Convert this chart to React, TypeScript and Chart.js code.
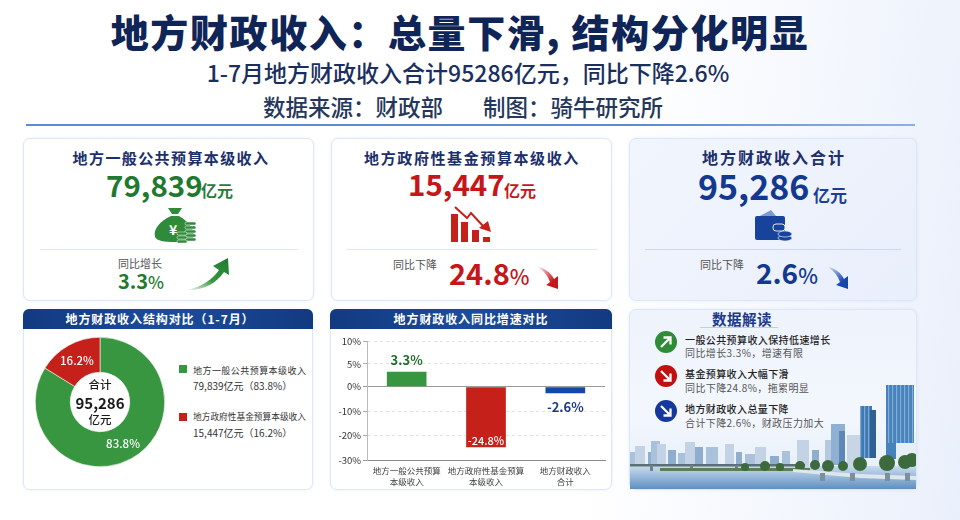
import React, { useEffect, useRef } from "react";
import { Chart, registerables, LinearScale } from "chart.js";

const shareLabels = ["地方一般公共预算本级收入", "地方政府性基金预算本级收入"];
const shareValues = [79839, 15447];
const sharePercents = ["83.8%", "16.2%"];
const shareColors = ["#37963f", "#c5201a"];

const growthCategories = [["地方一般公共预算", "本级收入"], ["地方政府性基金预算", "本级收入"], ["地方财政收入", "合计"]];
const growthValues = [3.3, -24.8, -2.6];
const growthTicks = [10, 5, 0, -10, -20, -30];
const growthColors = ["#37963f", "#c5201a", "#1546ac"];

const FONT = '"Noto Sans CJK SC", "Noto Sans", sans-serif';

class BrokenLinearScale extends (LinearScale as any) {
  static id = "brokenLinear";
  static defaults = {};
  toDecimal(v: number) {
    return v >= 0 ? (220 + (138 * v) / 10) / 358 : (220 * (1 + v / 30)) / 358;
  }
  getPixelForValue(v: number) {
    return (this as any).getPixelForDecimal(this.toDecimal(v));
  }
  getValueForPixel(p: number) {
    const d = (this as any).getDecimalForPixel(p) * 358;
    return d >= 220 ? ((d - 220) / 138) * 10 : (d / 220 - 1) * 30;
  }
}
Chart.register(...registerables, BrokenLinearScale as any);

const doughnutLabels = {
  id: "doughnutLabels",
  afterDatasetsDraw(chart: any) {
    const { ctx } = chart;
    const arcs = chart.getDatasetMeta(0).data;
    ctx.save();
    ctx.textAlign = "center";
    ctx.textBaseline = "middle";
    ctx.fillStyle = "#fff";
    ctx.font = `500 11.5px ${FONT}`;
    arcs.forEach((a: any, i: number) => {
      const p = a.tooltipPosition();
      ctx.fillText(sharePercents[i], p.x, p.y);
    });
    const cx = arcs[0].x;
    const cy = arcs[0].y;
    ctx.fillStyle = "#1a1a1a";
    ctx.font = `500 11.5px ${FONT}`;
    ctx.fillText("合计", cx, cy - 17);
    ctx.font = `700 15px ${FONT}`;
    ctx.fillText("95,286", cx, cy + 1);
    ctx.font = `500 11.5px ${FONT}`;
    ctx.fillText("亿元", cx, cy + 18);
    ctx.restore();
  },
};

const barLabels = {
  id: "barLabels",
  afterDatasetsDraw(chart: any) {
    const { ctx } = chart;
    const bars = chart.getDatasetMeta(0).data;
    ctx.save();
    ctx.textAlign = "center";
    ctx.textBaseline = "middle";
    const fmt = (v: number) => `${v}%`;
    ctx.font = `700 13px ${FONT}`;
    ctx.fillStyle = "#1f6f2c";
    ctx.fillText(fmt(growthValues[0]), bars[0].x, bars[0].y - 12);
    ctx.font = `500 11px ${FONT}`;
    ctx.fillStyle = "#ffffff";
    ctx.fillText(fmt(growthValues[1]), bars[1].x, bars[1].y - 7);
    ctx.font = `700 13px ${FONT}`;
    ctx.fillStyle = "#1c3a8a";
    ctx.fillText(fmt(growthValues[2]), bars[2].x, bars[2].y + 14);
    ctx.restore();
  },
};

function T(p: { x: number; y: number; s: number; c: string; w?: number; ls?: number; center?: boolean; children: any }) {
  return (
    <div
      style={{
        position: "absolute",
        left: p.x,
        top: p.y,
        transform: p.center ? "translate(-50%,-50%)" : "translateY(-50%)",
        fontSize: p.s,
        lineHeight: 1,
        color: p.c,
        fontWeight: p.w ?? 400,
        letterSpacing: p.ls ?? 0,
        whiteSpace: "pre",
      }}
    >
      {p.children}
    </div>
  );
}

function Card(p: { x: number; y: number; w: number; h: number; bg?: string; children?: any }) {
  return (
    <div
      style={{
        position: "absolute",
        left: p.x,
        top: p.y,
        width: p.w,
        height: p.h,
        boxSizing: "border-box",
        borderRadius: 7,
        border: "1px solid #dde7f8",
        background: p.bg ?? "#fff",
        boxShadow: "0 0 3px rgba(120,150,210,.15)",
        overflow: "hidden",
      }}
    >
      {p.children}
    </div>
  );
}

function Header(p: { x: number; y: number; w: number; shift?: number; children: any }) {
  return (
    <div
      style={{
        position: "absolute",
        left: p.x,
        top: p.y,
        width: p.w,
        height: 20,
        boxSizing: "border-box",
        paddingRight: p.shift ?? 0,
        borderRadius: "6px 6px 0 0",
        background: "linear-gradient(90deg,#123a80,#1b4c9c 50%,#123a80)",
        color: "#fff",
        fontSize: 12,
        fontWeight: 700,
        letterSpacing: 0.9,
        lineHeight: "20px",
        textAlign: "center",
      }}
    >
      {p.children}
    </div>
  );
}

function Svg(p: { x: number; y: number; w: number; h: number; children: any }) {
  return (
    <svg
      style={{ position: "absolute", left: p.x, top: p.y }}
      width={p.w}
      height={p.h}
      viewBox={`${p.x} ${p.y} ${p.w} ${p.h}`}
    >
      {p.children}
    </svg>
  );
}

const skyBack = [
  [630, 452, 8, 15], [635, 446, 10, 21], [648, 452, 7, 15], [651, 441, 9, 26], [657, 444, 9, 23],
  [668, 450, 8, 17], [678, 453, 7, 14], [685, 442, 10, 25], [695, 447, 8, 20], [706, 447, 12, 20],
  [725, 444, 9, 23], [736, 452, 6, 15], [745, 454, 10, 13], [755, 447, 11, 20], [770, 456, 9, 11],
  [782, 451, 8, 16], [797, 440, 12, 27], [812, 450, 7, 17],
];
const skyMid = [
  [825, 440, 8, 27, "#b7c9de"], [831, 424, 14, 41, "#8fb0d2"], [839, 431, 6, 34, "#5d87b4"],
  [847, 435, 13, 31, "#c8d5e4"], [860, 406, 12, 52, "#3f79b4"], [870, 410, 6, 48, "#2f5f94"],
  [886, 385, 28, 74, "#4682bb"], [896, 443, 21, 16, "#e6eef6"],
];
const trees = [[815, 465, 5], [828, 466, 6], [843, 466, 5], [860, 464, 7], [887, 463, 8], [905, 462, 7], [912, 460, 7], [800, 466, 5], [780, 467, 4], [765, 466, 5], [745, 467, 4]];

function UpArrow() {
  return (
    <Svg x={180} y={255} w={55} h={40}>
      <defs>
        <linearGradient id="ga" x1="0" y1="1" x2="1" y2="0">
          <stop offset="0" stopColor="#37963f" stopOpacity="0" />
          <stop offset=".45" stopColor="#37963f" />
          <stop offset="1" stopColor="#1f7a2e" />
        </linearGradient>
      </defs>
      <path d="M186 290 C202 287 213 279 219 270 L213 266 L228 258 L229 275 L224 272 C216 284 202 291 186 290Z" fill="url(#ga)" />
    </Svg>
  );
}
function DownArrow(p: { x: number; y: number; c: string; id: string }) {
  const { x, y, c, id } = p;
  return (
    <Svg x={x} y={y} w={26} h={26}>
      <defs>
        <linearGradient id={id} x1="0" y1="0" x2="1" y2="1">
          <stop offset="0" stopColor={c} stopOpacity=".1" />
          <stop offset=".7" stopColor={c} />
        </linearGradient>
      </defs>
      <path
        d={`M${x} ${y} C${x + 7} ${y + 1} ${x + 13} ${y + 6} ${x + 16} ${y + 12} L${x + 20} ${y + 9} L${x + 20} ${y + 22} L${x + 8} ${y + 18} L${x + 12} ${y + 15} C${x + 10} ${y + 9} ${x + 6} ${y + 4} ${x} ${y}Z`}
        fill={`url(#${id})`}
      />
    </Svg>
  );
}

function Tip(p: { y: number; c: string; dir: "up" | "down" }) {
  const y = p.y;
  return (
    <svg style={{ position: "absolute", left: 655, top: y - 11 }} width={22} height={22} viewBox="-11 -11 22 22">
      <circle r={11} fill={p.c} />
      <g transform={p.dir === "up" ? "rotate(0)" : "rotate(90)"}>
        <path d="M-5 5 L3 -3 M-2.5 -4.5 H4.5 V2.5" stroke="#fff" strokeWidth={2.3} fill="none" />
      </g>
    </svg>
  );
}

export default function App() {
  const dRef = useRef<HTMLCanvasElement>(null);
  const bRef = useRef<HTMLCanvasElement>(null);

  useEffect(() => {
    const d = new Chart(dRef.current!, {
      type: "doughnut",
      data: {
        labels: shareLabels,
        datasets: [{ data: shareValues, backgroundColor: shareColors, borderColor: "#f4f7f4", borderWidth: 0.6 }],
      },
      options: {
        responsive: false,
        animation: false,
        cutout: "46%",
        layout: { padding: 5 },
        plugins: { legend: { display: false }, tooltip: { enabled: false } },
      },
      plugins: [doughnutLabels],
    } as any);

    const b = new Chart(bRef.current!, {
      type: "bar",
      data: {
        labels: growthCategories,
        datasets: [{ data: growthValues, backgroundColor: growthColors, barPercentage: 0.5, categoryPercentage: 1 }],
      },
      options: {
        responsive: false,
        animation: false,
        layout: { padding: { top: 11, right: 7, left: 0, bottom: 0 } },
        plugins: { legend: { display: false }, tooltip: { enabled: false } },
        scales: {
          x: {
            afterFit(s: any) { s.height = 30; },
            grid: { display: false, drawTicks: false },
            border: { color: "#8a8a8a", width: 1 },
            ticks: { font: { family: FONT, size: 8.5 }, color: "#444", maxRotation: 0, minRotation: 0, autoSkip: false, padding: 6 },
          },
          y: {
            type: "brokenLinear",
            min: -30,
            max: 10,
            afterFit(s: any) { s.width = 36; },
            afterBuildTicks(s: any) { s.ticks = growthTicks.map((value) => ({ value })); },
            grid: {
              color: (c: any) => (c.tick?.value === 0 ? "#9a9a9a" : c.tick?.value === -30 ? "#8a8a8a" : "#dcdcdc"),
              lineWidth: (c: any) => (c.tick?.value === 0 || c.tick?.value === -30 ? 1 : 0.8),
              tickColor: "#9a9a9a",
              tickLength: 4,
            },
            border: { color: "#bbbbbb", width: 1, dash: (c: any) => (c.tick?.value === 0 || c.tick?.value === -30 ? [] : [3, 3]) },
            ticks: { font: { family: FONT, size: 9.5 }, color: "#333", padding: 2, callback: (v: any) => `${v}%` },
          },
        },
      },
      plugins: [barLabels],
    } as any);

    return () => {
      d.destroy();
      b.destroy();
    };
  }, []);

  const navy = "#0f2557";
  const green = "#1f7a30";
  const red = "#c5161a";
  const blue = "#12398f";

  return (
    <div
      style={{
        position: "fixed",
        left: 0,
        top: 0,
        width: 960,
        height: 520,
        overflow: "hidden",
        fontFamily: FONT,
        background: "linear-gradient(97deg,#ffffff 62%,#eaf0fb 100%)",
      }}
    >
      <T x={460} y={31} s={38} c={navy} w={900} ls={1.6} center>地方财政收入：总量下滑, 结构分化明显</T>
      <T x={468} y={72} s={23} c="#1a2f60" w={500} center>1-7月地方财政收入合计95286亿元，同比下降2.6%</T>
      <T x={263} y={106} s={22.5} c="#26375c" w={500}>数据来源：财政部</T>
      <T x={483} y={106} s={22.5} c="#26375c" w={500}>制图：骑牛研究所</T>
      <div style={{ position: "absolute", left: 26, top: 124, width: 889, height: 1.5, background: "linear-gradient(90deg,#5b8ad8,#5b8ad8 70%,#8fb0e6)" }} />

      <Card x={23} y={138} w={291} h={163} />
      <T x={171} y={157} s={15} c="#1c2f6b" w={700} ls={1.4} center>地方一般公共预算本级收入</T>
      <T x={106} y={185} s={29.5} c={green} w={700}>79,839</T>
      <T x={201} y={190} s={16} c="#2a7a3a" w={700}>亿元</T>
      <Svg x={150} y={203} w={50} h={42}>
        <path d="M168 208 L182 208 L178 214 L172 214Z M171 216 H179 C190 222 196 232 193 238 C191 242 184 242 175 242 C164 242 157 241 155 237 C153 229 160 221 171 216Z" fill="#2f8a3a" />
        <text x={169} y={235} fontSize={14} fontWeight={700} fill="#fff" fontFamily={FONT}>¥</text>
        {[222, 226, 230, 234, 238].map((y) => <rect key={y} x={185} y={y} width={11} height={3} rx={1.5} fill="#2f8a3a" stroke="#fff" strokeWidth={0.5} />)}
        {[232, 236, 240].map((y) => <rect key={y} x={177} y={y} width={10} height={3} rx={1.5} fill="#2f8a3a" stroke="#fff" strokeWidth={0.5} />)}
      </Svg>
      <div style={{ position: "absolute", left: 40, top: 249, width: 258, height: 1, background: "#dfe6f4" }} />
      <T x={118} y={263} s={11} c="#555">同比增长</T>
      <T x={118} y={281} s={20} c={green} w={700}>3.3<span style={{ fontWeight: 500, fontSize: 17 }}>%</span></T>
      <UpArrow />

      <Card x={331} y={138} w={281} h={163} />
      <T x={472} y={157} s={15} c="#1c2f6b" w={700} ls={1.6} center>地方政府性基金预算本级收入</T>
      <T x={408} y={184} s={29.5} c={red} w={700}>15,447</T>
      <T x={504} y={190} s={16} c="#c5161a" w={700}>亿元</T>
      <Svg x={445} y={203} w={52} h={44}>
        <rect x={451} y={214} width={7} height={28} fill="#c5201a" />
        <rect x={461} y={222} width={7} height={20} fill="#c5201a" />
        <rect x={472} y={230} width={7} height={12} fill="#c5201a" />
        <rect x={483} y={237} width={7} height={5} fill="#c5201a" />
        <path d="M455 207 L467 218 L471 213 L484 227" stroke="#c5201a" strokeWidth={2} fill="none" />
        <path d="M479 228 L491 232 L488 221Z" fill="#c5201a" />
      </Svg>
      <div style={{ position: "absolute", left: 347, top: 249, width: 250, height: 1, background: "#dfe6f4" }} />
      <T x={393} y={264} s={11} c="#555">同比下降</T>
      <T x={449} y={272} s={29} c={red} w={700}>24.8<span style={{ fontWeight: 500, fontSize: 21 }}>%</span></T>
      <DownArrow x={538} y={267} c="#c5161a" id="gr" />

      <Card x={629} y={138} w={288} h={163} bg="linear-gradient(135deg,#f1f5fd,#e9effb)" />
      <T x={774} y={157} s={16} c="#1c2f6b" w={700} ls={2} center>地方财政收入合计</T>
      <T x={698} y={186} s={34} c={blue} w={700}>95,286</T>
      <T x={813} y={194} s={17} c="#1c3f96" w={700}>亿元</T>
      <Svg x={750} y={205} w={48} h={42}>
        <path d="M760 216 L771 210 L776 216Z" fill="#7e99cf" />
        <rect x={755} y={216} width={30} height={24} rx={2} fill="#17439c" />
        <rect x={773} y={224} width={12} height={7} rx={3} fill="#17439c" stroke="#dfe8fa" />
        <ellipse cx={785} cy={238} rx={7} ry={3} fill="#17439c" stroke="#dfe8fa" strokeWidth={0.7} />
        <ellipse cx={785} cy={234} rx={7} ry={3} fill="#17439c" stroke="#dfe8fa" strokeWidth={0.7} />
      </Svg>
      <div style={{ position: "absolute", left: 645, top: 249, width: 256, height: 1, background: "#cfd9ee" }} />
      <T x={700} y={264} s={11} c="#555">同比下降</T>
      <T x={756} y={272} s={28} c={blue} w={700}>2.6<span style={{ fontWeight: 500, fontSize: 21 }}>%</span></T>
      <DownArrow x={828} y={267} c="#1546ac" id="gb" />

      <Card x={23} y={309} w={290} h={181} />
      <Header x={23} y={309} w={290} shift={16}>地方财政收入结构对比（1-7月）</Header>
      <canvas ref={dRef} width={140} height={140} style={{ position: "absolute", left: 30, top: 332, width: 140, height: 140 }} />
      {shareLabels.map((l, i) => (
        <React.Fragment key={l}>
          <div style={{ position: "absolute", left: 179, top: 365 + i * 48, width: 8, height: 8, background: shareColors[i] }} />
          <T x={193} y={370 + i * 47} s={i === 0 ? 9 : 8.7} c="#333" ls={i === 0 ? 0.45 : 0}>{l}</T>
          <T x={193} y={386 + i * 47} s={10} c="#333">{i === 0 ? "79,839亿元（83.8%）" : "15,447亿元（16.2%）"}</T>
        </React.Fragment>
      ))}

      <Card x={330} y={309} w={282} h={181} />
      <Header x={330} y={309} w={282}>地方财政收入同比增速对比</Header>
      <canvas ref={bRef} width={281} height={160} style={{ position: "absolute", left: 331, top: 330, width: 281, height: 160 }} />

      <Card x={629} y={309} w={288} h={181} bg="linear-gradient(180deg,#eef3fc,#f3f7fd 60%,#e4edf8)" />
      <Svg x={630} y={380} w={286} h={109}>
        <defs>
          <linearGradient id="river" x1="0" y1="0" x2="0" y2="1">
            <stop offset="0" stopColor="#c9dcee" />
            <stop offset="1" stopColor="#5f90c2" />
          </linearGradient>
          <pattern id="win" x="0" y="0" width="4" height="3" patternUnits="userSpaceOnUse">
            <rect width="1.2" height="3" fill="#cfe2f3" opacity=".45" />
          </pattern>
        </defs>
        <g style={{ filter: "blur(.5px)" }}>
          {skyBack.map((b, i) => <rect key={i} x={b[0]} y={b[1]} width={b[2]} height={b[3]} fill={i % 3 === 0 ? "#a9c1da" : i % 3 === 1 ? "#c3d3e5" : "#8fadcd"} />)}
          <rect x={630} y={466} width={286} height={23} fill="url(#river)" />
          <rect x={630} y={464} width={175} height={2.5} fill="#5c6f74" />
          {[650, 690, 735].map((x) => <rect key={x} x={x} y={465} width={3} height={6} fill="#6f8088" />)}
          <rect x={660} y={468} width={150} height={3} fill="#5d7d57" />
          {skyMid.map((b, i) => <rect key={i} x={b[0] as number} y={b[1] as number} width={b[2] as number} height={b[3] as number} fill={b[4] as string} />)}
          <rect x={886} y={385} width={28} height={58} fill="url(#win)" />
          <rect x={860} y={406} width={12} height={52} fill="url(#win)" />
          {trees.map((t, i) => <circle key={i} cx={t[0]} cy={t[1]} r={t[2]} fill="#3c6a3c" />)}
          <path d="M793 469 L860 474 L916 476 V480 L860 478 L793 472Z" fill="#dfe6ec" />
          {[820, 850, 885, 905].map((x) => <rect key={x} x={x} y={473} width={5} height={8} fill="#7e8f9b" />)}
        </g>
      </Svg>
      <T x={742} y={319} s={14.5} c="#1c3a8a" w={700} ls={0.5} center>数据解读</T>
      <div style={{ position: "absolute", left: 700, top: 327, width: 78, height: 1, background: "#b9cdee" }} />
      <Tip y={342} c="#2e8b36" dir="up" />
      <T x={685} y={340} s={10} c="#222" w={500} ls={0.4}>一般公共预算收入保持低速增长</T>
      <T x={685} y={353} s={10} c="#555" ls={0.4}>同比增长3.3%，增速有限</T>
      <Tip y={376} c="#c20f0f" dir="down" />
      <T x={685} y={374} s={10} c="#222" w={500} ls={0.4}>基金预算收入大幅下滑</T>
      <T x={685} y={388} s={10} c="#555" ls={0.4}>同比下降24.8%，拖累明显</T>
      <Tip y={411} c="#15389c" dir="down" />
      <T x={685} y={409} s={10} c="#222" w={500} ls={0.4}>地方财政收入总量下降</T>
      <T x={685} y={423} s={10} c="#555" ls={0.4}>合计下降2.6%，财政压力加大</T>
    </div>
  );
}
